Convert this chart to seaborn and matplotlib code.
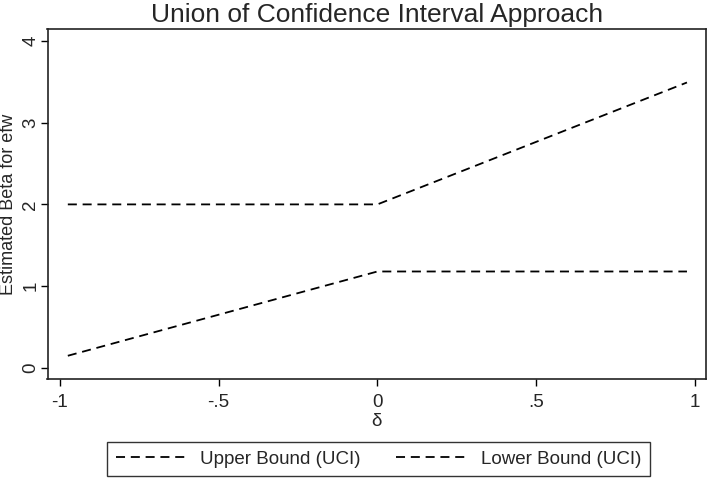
import pandas as pd
import numpy as np
import matplotlib
matplotlib.use("Agg")
import matplotlib.pyplot as plt
import seaborn as sns

# values
delta = [-0.975, 0.0, 0.975]
upper = [2.0, 2.0, 3.49]
lower = [0.15, 1.18, 1.18]
series_names = ["Upper Bound (UCI)", "Lower Bound (UCI)"]
xticks = [-1, -0.5, 0, 0.5, 1]
xtick_labels = ["-1", "-.5", "0", ".5", "1"]
yticks = [0, 1, 2, 3, 4]

df = pd.concat([
    pd.DataFrame({"delta": delta, "beta": upper, "series": series_names[0]}),
    pd.DataFrame({"delta": delta, "beta": lower, "series": series_names[1]}),
])

sns.set_style("white")
plt.rcParams["font.family"] = ["Liberation Sans", "DejaVu Sans"]

fs = 13.5
fig = plt.figure(figsize=(7.13, 4.82), dpi=100)
ax = fig.add_axes([47.5 / 713, 1 - 379 / 482, (705.7 - 47.5) / 713, (379 - 29.3) / 482])

sns.lineplot(data=df, x="delta", y="beta", hue="series", style="series",
             palette=["black", "black"], dashes=[(5, 3.2), (5, 3.2)],
             linewidth=1.3, ax=ax, legend=True)

ax.set_xlim(-1.039, 1.034)
ax.set_ylim(-0.134, 4.14)
ax.set_xticks(xticks)
ax.set_xticklabels(xtick_labels)
ax.set_yticks(yticks)
ax.set_yticklabels([str(v) for v in yticks], rotation=90, va="center")
ax.tick_params(axis="both", which="major", direction="out", length=5, width=1,
               color="black", labelsize=fs, bottom=True, left=True)
ax.tick_params(axis="y", pad=1)
ax.tick_params(axis="x", pad=6)
for s in ax.spines.values():
    s.set_color("#222222")
    s.set_linewidth(1.2)

ax.set_xlabel("δ", fontsize=fs, labelpad=1)
ax.set_ylabel("Estimated Beta for efw", fontsize=13, va="top")
ax.yaxis.set_label_coords(-47.0 / 658.2, 0.5)
ax.set_title("Union of Confidence Interval Approach", fontsize=19, pad=5)

handles, labels = ax.get_legend_handles_labels()
ax.get_legend().remove()
leg = fig.legend(handles, labels, loc="lower center", ncol=2,
                 bbox_to_anchor=(378.5 / 713, 6 / 482), fontsize=fs,
                 frameon=True, fancybox=False, edgecolor="black",
                 handlelength=3.9, handletextpad=0.6, columnspacing=1.9,
                 borderpad=0.45, borderaxespad=0)
leg.get_frame().set_linewidth(1.0)

fig.savefig("out.png", dpi=100)
